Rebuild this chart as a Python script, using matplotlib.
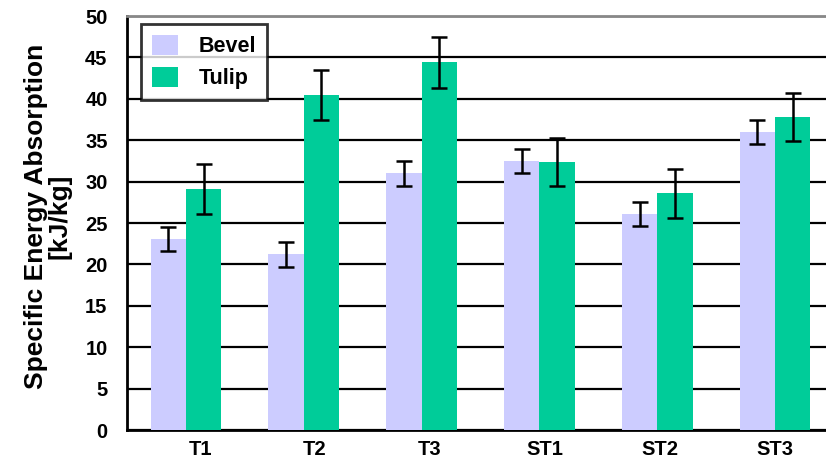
import numpy as np
import matplotlib
matplotlib.use("Agg")
import matplotlib.pyplot as plt
from matplotlib.patches import Patch

# specimen groups and measured SEA (kJ/kg) with +/- spread
categories = ["T1", "T2", "T3", "ST1", "ST2", "ST3"]
bevel = [23.1, 21.2, 31.0, 32.5, 26.1, 36.0]
bevel_err = [1.45, 1.5, 1.5, 1.45, 1.45, 1.45]
tulip = [29.1, 40.5, 44.4, 32.4, 28.6, 37.8]
tulip_err = [3.0, 3.0, 3.05, 2.9, 2.95, 2.95]

BEVEL_C = "#CCCCFF"
TULIP_C = "#00CC99"

plt.rcParams["font.family"] = ["Liberation Sans", "DejaVu Sans"]
plt.rcParams["font.weight"] = "bold"

fig = plt.figure(figsize=(8.26, 4.63), dpi=100)
ax = fig.add_axes([127 / 826, 33 / 463, 707 / 826, 414 / 463])

x = np.arange(len(categories))
w = 0.3
err_kw = dict(ecolor="black", elinewidth=1.8, capsize=6, capthick=1.8, zorder=4)
ax.bar(x - w / 2, bevel, w, color=BEVEL_C, yerr=bevel_err, error_kw=err_kw,
       zorder=3, label="Bevel")
ax.bar(x + w / 2, tulip, w, color=TULIP_C, yerr=tulip_err, error_kw=err_kw,
       zorder=3, label="Tulip")

ax.set_xlim(-0.5, 5.5)
ax.set_ylim(0, 50)
ax.set_yticks(np.arange(0, 51, 5))
ax.yaxis.grid(True, color="black", lw=1.6, zorder=1)
ax.set_axisbelow(True)

# category labels sit slightly right of the bar pairs
ax.set_xticks(np.arange(len(categories)) * 0.975 + 0.12)
ax.set_xticklabels(categories)
ax.tick_params(axis="x", length=0, pad=7, labelsize=14.5)
ax.tick_params(axis="y", length=0, pad=14, labelsize=14.5)

for side in ("left", "bottom"):
    ax.spines[side].set_linewidth(2)
    ax.spines[side].set_color("black")
ax.spines["top"].set_color("#888888")
ax.spines["top"].set_linewidth(2)
ax.spines["right"].set_visible(False)

ax.set_ylabel("Specific Energy Absorption\n[kJ/kg]", fontsize=19,
              fontweight="bold", linespacing=0.95)
ax.yaxis.set_label_coords(-0.079, 0.515)

handles = [Patch(facecolor=BEVEL_C, label="Bevel"),
           Patch(facecolor=TULIP_C, label="Tulip")]
leg = ax.legend(handles=handles, loc="upper left",
                bbox_to_anchor=(14 / 707, 406 / 414), fontsize=15.5,
                frameon=True, fancybox=False, edgecolor="black",
                handlelength=1.2, handleheight=1.05, handletextpad=1.0,
                labelspacing=0.45, borderpad=0.5, borderaxespad=0)
leg.get_frame().set_linewidth(2)
leg.set_zorder(5)
for t in leg.get_texts():
    t.set_fontweight("bold")

fig.savefig("out.png", dpi=100)
